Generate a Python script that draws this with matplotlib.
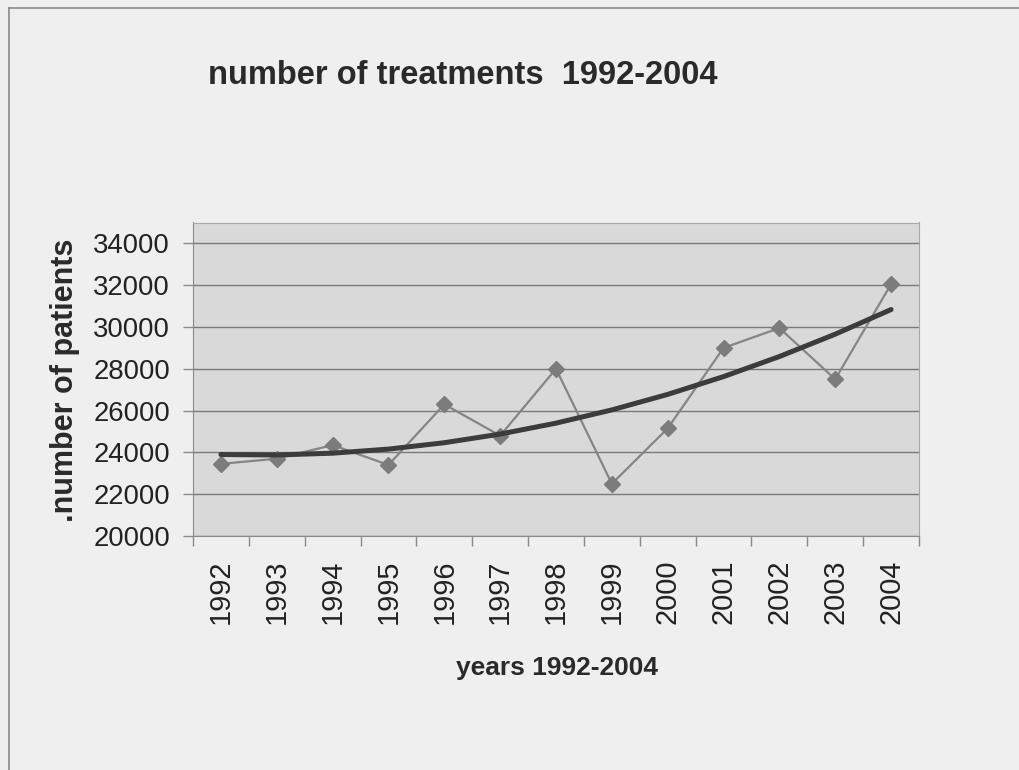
import numpy as np
import matplotlib
matplotlib.use("Agg")
import matplotlib.pyplot as plt
from matplotlib.ticker import FixedLocator, NullFormatter

plt.rcParams["font.family"] = ["Liberation Sans", "DejaVu Sans"]

# yearly treatment counts
years = ["1992", "1993", "1994", "1995", "1996", "1997", "1998",
         "1999", "2000", "2001", "2002", "2003", "2004"]
patients = [23450, 23700, 24350, 23400, 26300, 24800, 28000,
            22500, 25150, 29000, 29950, 27500, 32050]

x = np.arange(len(years))
# 2nd-order polynomial trend, as a spreadsheet trendline would draw it
coef = np.polyfit(x, patients, 2)
trend = np.polyval(coef, x)

fig = plt.figure(figsize=(10.19, 7.70), dpi=100, facecolor="#efefef")
ax = fig.add_axes([193 / 1019, 1 - 536 / 770, 726 / 1019, 313.5 / 770])
ax.set_facecolor("#d9d9d9")

ax.plot(x, patients, color="#858585", lw=1.6, marker="D", ms=8.5,
        mfc="#7c7c7c", mec="#7c7c7c", zorder=3)
ax.plot(x, trend, color="#3c3c3c", lw=3.6, solid_capstyle="round", zorder=4)

ax.set_ylim(20000, 35000)
ax.set_yticks(np.arange(20000, 34001, 2000))
ax.yaxis.grid(True, color="#7a7a7a", lw=1.0)
ax.set_axisbelow(True)
ax.tick_params(axis="y", direction="out", length=7, width=1, color="#8a8a8a",
               labelsize=19.8, pad=9.5, labelcolor="#222222")

ax.set_xlim(-0.5, len(years) - 0.5)
ax.xaxis.set_major_locator(FixedLocator(np.arange(-0.5, len(years), 1.0)))
ax.xaxis.set_major_formatter(NullFormatter())
ax.xaxis.set_minor_locator(FixedLocator(x))
ax.set_xticklabels(years, minor=True, rotation=90)
ax.tick_params(axis="x", which="major", direction="out", length=7, width=1, color="#8a8a8a")
ax.tick_params(axis="x", which="minor", length=0, labelsize=20.8, pad=17, labelcolor="#222222")

for side in ["top", "right"]:
    ax.spines[side].set_color("#a8a8a8")
for side in ["left", "bottom"]:
    ax.spines[side].set_color("#8a8a8a")

fig.text(463 / 1019, 1 - 75 / 770, "number of treatments  1992-2004", ha="center", va="center",
         fontsize=23.5, fontweight="bold", color="#2a2a2a")
fig.text(557 / 1019, 1 - 668 / 770, "years 1992-2004", ha="center", va="center",
         fontsize=19, fontweight="bold", color="#2a2a2a")
fig.text(65 / 1019, 1 - 380 / 770, ".number of patients", ha="center", va="center",
         rotation=90, fontsize=22, fontweight="bold", color="#2a2a2a")

# outer chart frame
fig.add_artist(plt.Line2D([8.5 / 1019, 1.0], [1 - 7.5 / 770] * 2, color="#8a8a8a", lw=1.2))
fig.add_artist(plt.Line2D([8.5 / 1019] * 2, [0.0, 1 - 7.5 / 770], color="#8a8a8a", lw=1.2))

fig.savefig("out.png", dpi=100, facecolor=fig.get_facecolor())
